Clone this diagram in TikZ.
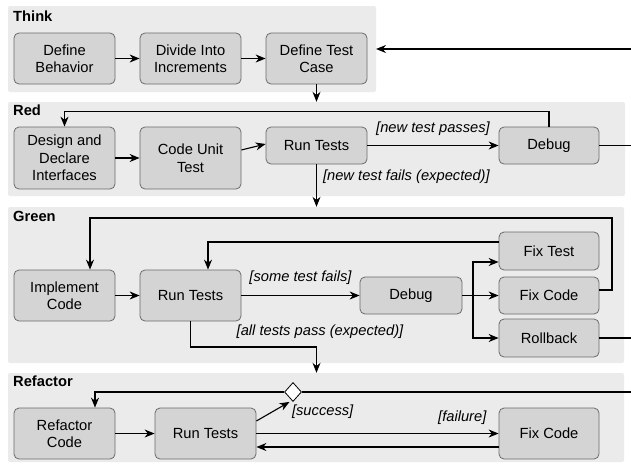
\documentclass[tikz,border=0pt]{standalone}
\usepackage{fontspec}
\setmainfont{Liberation Sans}
\usetikzlibrary{arrows.meta,shapes.geometric}
\definecolor{panelgray}{HTML}{EBEBEB}
\definecolor{boxgray}{HTML}{D4D4D4}
\definecolor{boxline}{HTML}{6B6B6B}
\begin{document}
\begin{tikzpicture}[x=1pt, y=-1pt,
  font=\fontsize{14.7}{17.5}\selectfont,
  panel/.style={fill=panelgray, rounded corners=2pt, inner sep=0},
  title/.style={anchor=west, inner sep=0, font=\fontsize{14.7}{17.5}\selectfont\bfseries},
  box/.style={draw=boxline, fill=boxgray, line width=0.8pt, rounded corners=5pt, align=center, minimum width=101pt, inner sep=2pt},
  cond/.style={inner sep=2pt, font=\fontsize{14.7}{17.5}\selectfont\itshape},
  arr/.style={line width=1.1pt, -{Stealth[length=10pt,width=8pt]}},
  wire/.style={line width=1.1pt}]
\useasboundingbox (0,0) rectangle (631,463);
\node[panel, minimum width=368pt, minimum height=86pt] (think) at (192,49) {};
\node[panel, minimum width=617pt, minimum height=94pt] (red) at (316.5,149) {};
\node[panel, minimum width=616pt, minimum height=156pt] (green) at (316,285) {};
\node[panel, minimum width=616pt, minimum height=89pt] (refactor) at (316,417.5) {};
\node[title] (thinkT) at (13,16) {Think};
\node[title] (redT) at (13,110) {Red};
\node[title] (greenT) at (13,216) {Green};
\node[title] (refactorT) at (13,381) {Refactor};
\node[box, minimum height=51pt] (db) at (64.5,58.5) {Define\\Behavior};
\node[box, minimum height=51pt] (dii) at (190.5,58.5) {Divide Into\\Increments};
\node[box, minimum height=51pt] (dtc) at (316.5,58.5) {Define Test\\Case};
\coordinate (thinkIn) at (631,49);
\coordinate (thinkTip) at (376,49);
\draw[arr] (db) -- (dii);
\draw[arr] (dii) -- (dtc);
\draw[arr] (thinkIn) -- (thinkTip);
\draw[arr] (dtc) -- (dtc |- red.north);
\node[box, minimum height=62pt] (design) at (64.5,158) {Design and\\Declare\\Interfaces};
\node[box, minimum height=62pt] (cut) at (190.5,158) {Code Unit\\Test};
\node[box, minimum height=37pt] (rrun) at (316.5,145.5) {Run Tests};
\node[box, minimum width=100pt, minimum height=37pt] (rdebug) at (549,145.5) {Debug};
\coordinate (redOut) at (631,145.5);
\draw[arr] (design) -- (cut);
\draw[arr] ([yshift=8pt]cut.east) -- ([yshift=1.5pt]rrun.west);
\draw[arr] (rrun) -- node[cond, above=7pt] (lblPass) {[new test passes]} (rdebug);
\draw[arr] (rdebug.north) -- ++(0,-15) -| (design.north);
\draw[wire] (rdebug) -- (redOut);
\draw[arr] (rrun) -- node[cond, right=4pt, pos=0.3] (lblFails) {[new test fails (expected)]} (rrun |- green.north);
\node[box, minimum height=51pt] (impl) at (64.5,295.5) {Implement\\Code};
\node[box, minimum height=51pt] (grun) at (190.5,295.5) {Run Tests};
\node[box, minimum width=102pt, minimum height=37pt] (gdebug) at (411,295.5) {Debug};
\node[box, minimum width=100pt, minimum height=38pt] (fixtest) at (549,251) {Fix Test};
\node[box, minimum width=100pt, minimum height=37pt] (fixcode) at (549,295.5) {Fix Code};
\node[box, minimum width=100pt, minimum height=38pt] (rollback) at (549,338) {Rollback};
\coordinate (split) at (473,295.5);
\coordinate (gtop) at (612,218);
\coordinate (gpass) at (316.5,347);
\coordinate (greenOut) at (631,338);
\draw[arr] (impl) -- (grun);
\draw[arr] (grun) -- node[cond, above=8pt] (lblSome) {[some test fails]} (gdebug);
\draw[wire] (gdebug) -- (split);
\draw[arr] (split) |- ([yshift=-11pt]fixtest.west);
\draw[arr] (split) -- (fixcode);
\draw[arr] (split) |- (rollback);
\draw[arr] ([yshift=5.5pt]fixcode.east) -| (gtop) -| ([xshift=25.5pt]impl.north);
\draw[arr] ([yshift=9pt]fixtest.west) -| ([xshift=17.5pt]grun.north);
\draw[wire] (rollback) -- (greenOut);
\draw[arr] (grun) |- node[cond, pos=1, above=6pt, xshift=3.5pt] (lblAll) {[all tests pass (expected)]} (gpass) -- (gpass |- refactor.north);
\node[box, minimum height=51pt] (rcode) at (64.5,433.5) {Refactor\\Code};
\node[box, minimum height=51pt] (frun) at (205.5,433.5) {Run Tests};
\node[box, minimum width=100pt, minimum height=51pt] (ffix) at (549,433.5) {Fix Code};
\node[draw, fill=white, diamond, minimum width=17pt, minimum height=19pt, inner sep=0, line width=0.8pt] (rdia) at (293,392) {};
\coordinate (refOut) at (631,392);
\draw[arr] (rcode) -- (frun);
\draw[arr] ([yshift=12.5pt]frun.east) -- node[cond, pos=1, below right] (lblSuccess) {[success]} ([xshift=-3.5pt]rdia.south);
\draw[wire] (rdia) -- (refOut);
\draw[arr] (rdia) -| ([xshift=30.5pt]rcode.north);
\draw[arr] (frun) -- node[cond, pos=0.85, above=6pt] (lblFail) {[failure]} (ffix);
\draw[arr] ([yshift=-13.5pt]ffix.west) -- ([yshift=-13.5pt]frun.east);
\end{tikzpicture}
\end{document}
